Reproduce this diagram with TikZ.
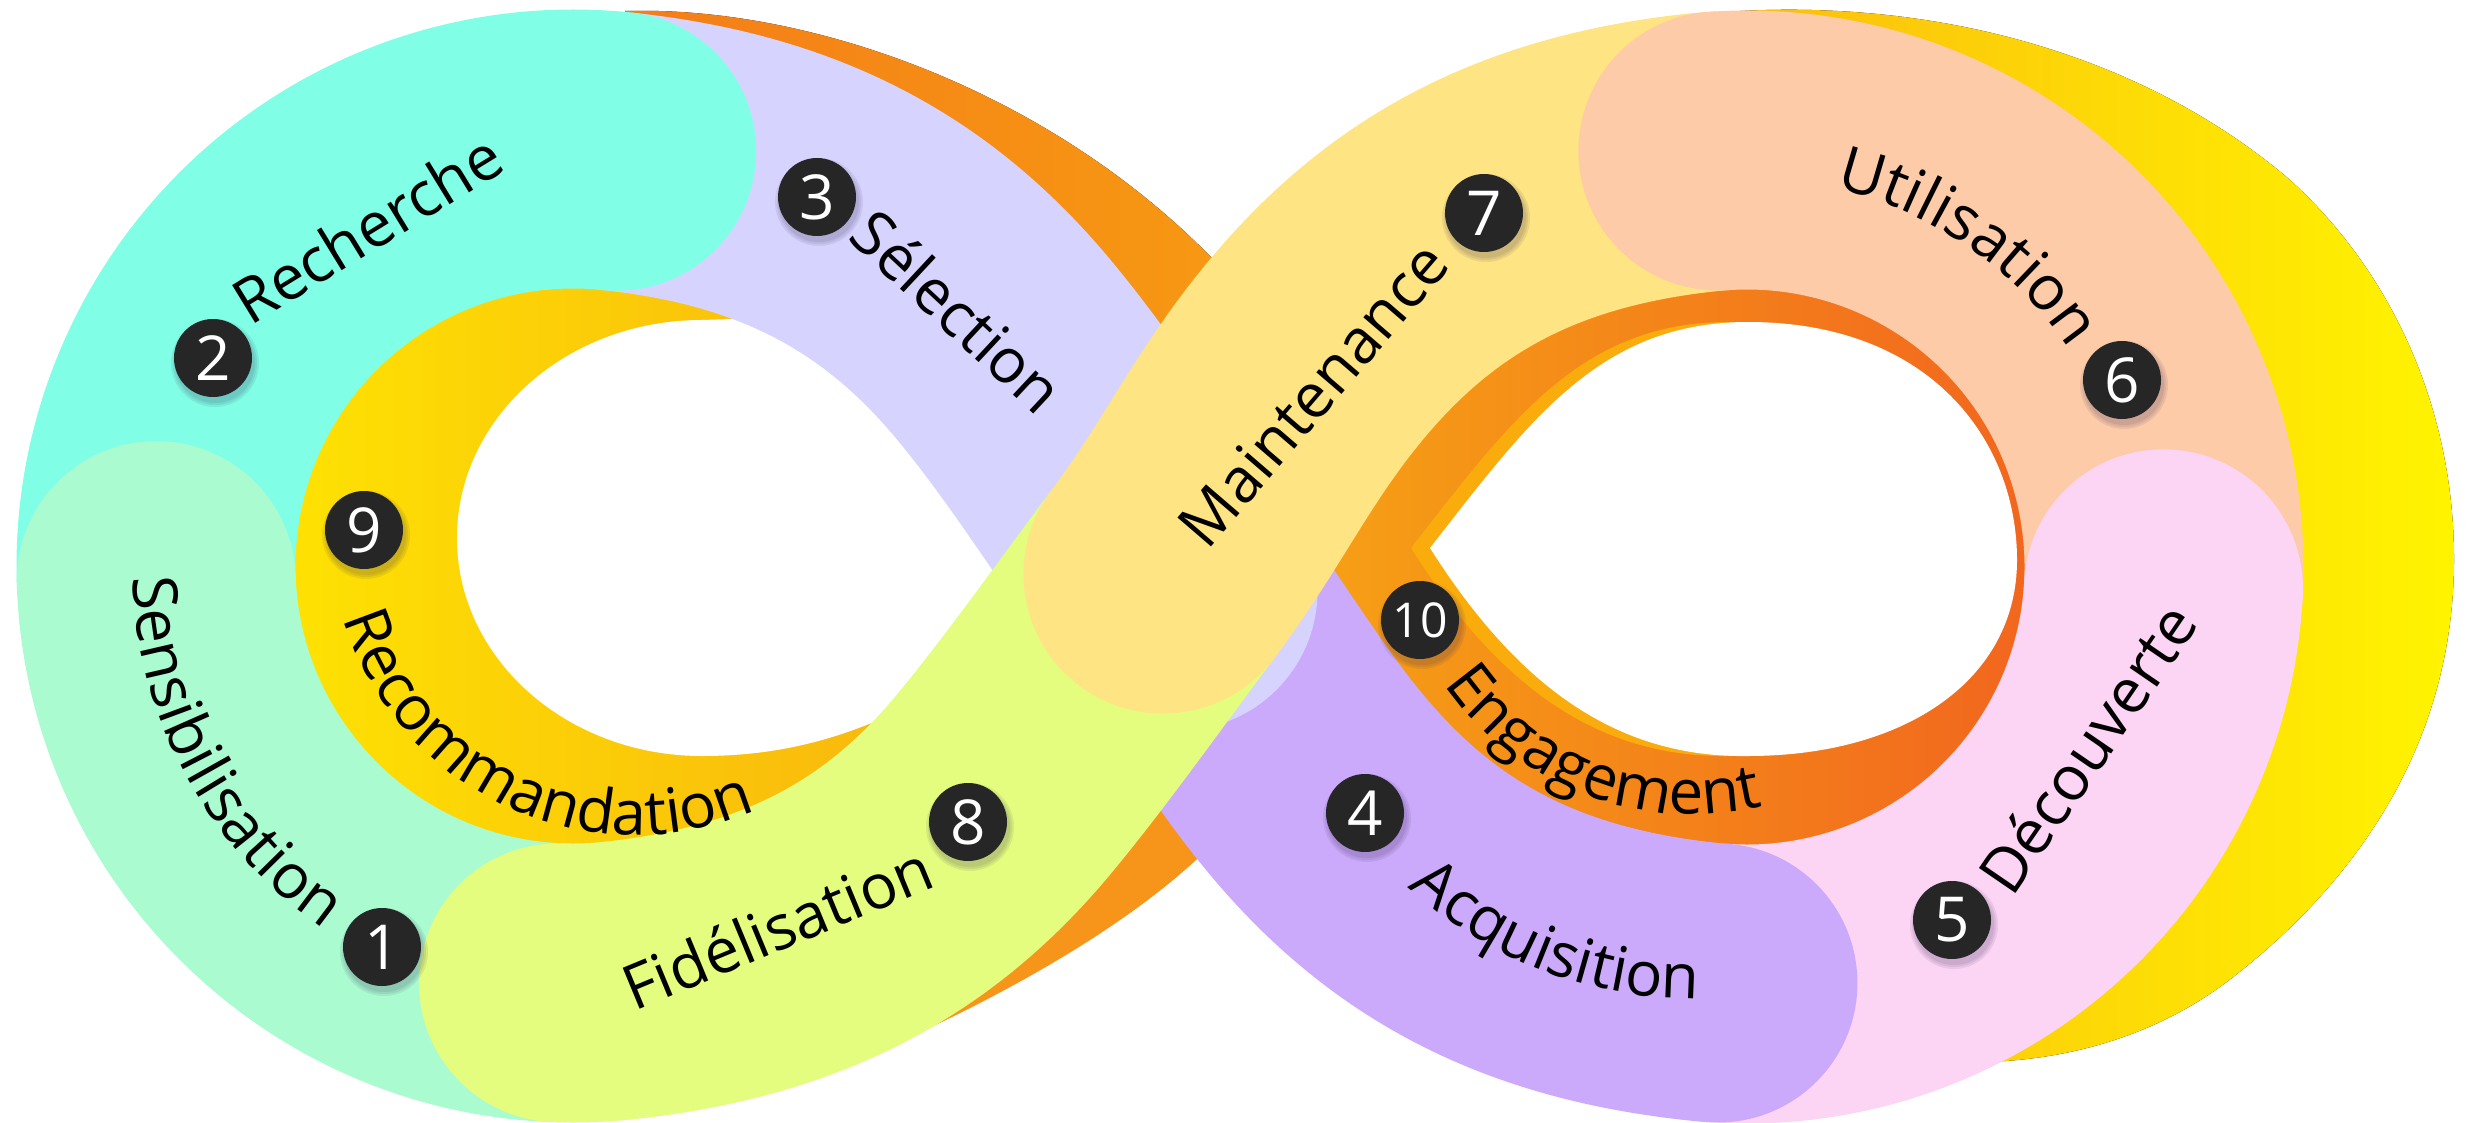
\documentclass[tikz,border=0pt]{standalone}
\usepackage{fontspec}
\setmainfont{Open Sans}
\usetikzlibrary{decorations.text}

\definecolor{mintc}{HTML}{AAFCD0}
\definecolor{cyanc}{HTML}{80FFE6}
\definecolor{lavc}{HTML}{D6D4FE}
\definecolor{purc}{HTML}{CBAAFB}
\definecolor{pinkc}{HTML}{FCD4F4}
\definecolor{peachc}{HTML}{FDCBA8}
\definecolor{maintc}{HTML}{FEE482}
\definecolor{fidc}{HTML}{E4FD7E}
\definecolor{badgec}{HTML}{262626}
\definecolor{shadowc}{HTML}{3A2F5A}
\definecolor{recA}{HTML}{FFEC00}
\definecolor{recB}{HTML}{F8B00F}
\definecolor{engA}{HTML}{F6A015}
\definecolor{engB}{HTML}{F15A20}
\definecolor{amberc}{HTML}{F9AC0C}
\definecolor{topA}{HTML}{F47D18}
\definecolor{topB}{HTML}{F79A12}
\definecolor{wedgec}{HTML}{F7951A}
\definecolor{backA}{HTML}{FBBE0D}
\definecolor{backB}{HTML}{FFF400}

\newcommand\lblfont{\fontsize{62}{74}\selectfont}
\newcommand\numfont{\fontsize{62}{70}\selectfont}
\newcommand\smallnumfont{\fontsize{48}{56}\selectfont}

\tikzset{
  band/.style={line width=279pt, line cap=butt},
  stage/.style={font=\lblfont, inner sep=0pt},
  badge/.style={circle, fill=badgec, text=white, minimum size=78pt, inner sep=0pt, font=\numfont},
  softshadow/.style={fill=shadowc, opacity=0.09},
}

\begin{document}
\begin{tikzpicture}[x=1pt,y=-1pt]
\useasboundingbox (0,0) rectangle (2470,1123);

% ---- back (depth) faces of the ribbon
\fill[left color=topA, right color=topB] (625,11) .. controls (830,5) and (1100,110) .. (1262,315) -- (1150,335) -- (950,220) -- (800,130) -- (660,90) -- cycle;
\fill[wedgec] (925,1030) .. controls (1010,990) and (1120,930) .. (1196,860) .. controls (1220,838) and (1240,815) .. (1255,795) -- (1230,715) -- (1120,800) -- (1000,920) -- cycle;
\fill[left color=backA, right color=backB] (1740,11) .. controls (1950,0) and (2150,60) .. (2290,180) .. controls (2400,280) and (2454,420) .. (2454,559) .. controls (2454,740) and (2360,880) .. (2228,981) .. controls (2150,1040) and (2060,1060) .. (1985,1062) -- (1900,1000) -- (2200,700) -- (2200,420) -- (1900,100) -- (1760,60) -- cycle;

% ---- inner walls of both loops
\fill[left color=recA, right color=recB] (573,566) circle[radius=430];
\fill[left color=engA, right color=engB] (1747,567) circle[radius=430];

% ---- openings
\fill[white] (702,320) arc[start angle=270, end angle=90, x radius=245, y radius=218] .. controls (790,756) and (850,733) .. (895,713) -- (960,700) -- (1060,578) -- (960,420) -- (800,322) -- (760,318) -- cycle;
\fill[amberc, xshift=-19pt] (1430,548) .. controls (1530,420) and (1600,322) .. (1748,322) .. controls (1930,322) and (2017,440) .. (2017,560) .. controls (2017,680) and (1905,756) .. (1748,756) .. controls (1620,758) and (1520,690) .. cycle;
\fill[white] (1430,548) .. controls (1530,420) and (1600,322) .. (1748,322) .. controls (1930,322) and (2017,440) .. (2017,560) .. controls (2017,680) and (1905,756) .. (1748,756) .. controls (1620,758) and (1520,690) .. cycle;

% ---- front face, stage by stage
% 4 Acquisition
\draw[band, purc] (1178,591) .. controls (1226,655) and (1264.8,722.4) .. (1316,784) .. controls (1412,899.5) and (1529.4,963.4) .. ([shift={(96:417)}]1747,567) arc[start angle=96, end angle=94, radius=417];
% 3 Selection
\draw[band, lavc] ([shift={(276:417)}]573,566) .. controls (790.6,169.6) and (908,234.5) .. (1004,350) .. controls (1068,427) and (1118,511) .. (1178,591);
\fill[lavc] (1178,591) circle[radius=139.5];
% 2 Recherche
\draw[band, cyanc] ([shift={(178:417)}]573,566) arc[start angle=178, end angle=276, radius=417];
\fill[cyanc] ([shift={(276:417)}]573,566) circle[radius=139.5];
% 1 Sensibilisation
\draw[band, mintc] ([shift={(92:417)}]573,566) arc[start angle=92, end angle=178, radius=417];
\fill[mintc] ([shift={(178:417)}]573,566) circle[radius=139.5];
% 8 Fidelisation
\draw[band, fidc] (1163,574) .. controls (1115,638) and (1055.2,722.4) .. (1004,784) .. controls (908,899.5) and (790.6,962.4) .. ([shift={(84:417)}]573,566) arc[start angle=84, end angle=92, radius=417];
\fill[fidc] ([shift={(92:417)}]573,566) circle[radius=139.5];
% 7 Maintenance
\draw[band, maintc] ([shift={(-94:417)}]1747,567) arc[start angle=-94, end angle=-96, radius=417] .. controls (1529.4,170.6) and (1412,234.5) .. (1316,350) .. controls (1252,427) and (1223,494) .. (1163,574);
\fill[maintc] (1163,574) circle[radius=139.5];
% 6 Utilisation
\draw[band, peachc] ([shift={(3:417)}]1747,567) arc[start angle=3, end angle=-94, radius=417];
\fill[peachc] ([shift={(-94:417)}]1747,567) circle[radius=139.5];
% 5 Decouverte
\draw[band, pinkc] ([shift={(94:417)}]1747,567) arc[start angle=94, end angle=3, radius=417];
\fill[pinkc] ([shift={(3:417)}]1747,567) circle[radius=139.5];
% rounded end of 4 over the start of 5
\fill[purc] ([shift={(94:417)}]1747,567) circle[radius=139.5];

% ---- curved labels
\path[decorate, decoration={text along path, text align=center, text={|\lblfont|Sensibilisation}}] ([shift={(193:440)}]573,566) arc[start angle=193, end angle=110, radius=440];
\path[decorate, decoration={text along path, text align=center, text={|\lblfont|Recommandation}}] ([shift={(172:306)}]636,529) arc[start angle=172, end angle=58, radius=306];
\path[decorate, decoration={text along path, text align=center, text={|\lblfont|Engagement}}] ([shift={(152:303)}]1693,511) arc[start angle=152, end angle=70, radius=303];
\path[decorate, decoration={text along path, text align=center, text={|\lblfont|Acquisition}}] ([shift={(140:430)}]1697,569) arc[start angle=140, end angle=82, radius=430];
\path[decorate, decoration={text along path, text align=center, text={|\lblfont|Utilisation}}] ([shift={(-87:389)}]1747,567) arc[start angle=-87, end angle=-24, radius=389];

% ---- straight labels
\node[stage, rotate=31.5] (recherche) at (367,228) {Recherche};
\node[stage, rotate=-43] (selection) at (958,311) {Sélection};
\node[stage, rotate=22.5] (fidelisation) at (777,927) {Fidélisation};
\node[stage, rotate=49.3] (maintenance) at (1313,394) {Maintenance};
\node[stage, rotate=55.6] (decouverte) at (2087,748) {Découverte};

% ---- numbered badges
\foreach \n/\x/\y in {1/382/947, 2/213/358, 3/817/197, 4/1365/813, 5/1952/920, 6/2122/380, 7/1484/213, 8/968/822, 9/364/530, 10/1420/620} {
  \fill[softshadow] (\x+2,\y+5) circle[radius=44];
  \fill[softshadow] (\x+2,\y+5) circle[radius=42];
  \fill[softshadow] (\x+2,\y+5) circle[radius=40];
}
\foreach \n/\x/\y in {1/382/947, 2/213/358, 3/817/197, 4/1365/813, 5/1952/920, 6/2122/380, 7/1484/213, 8/968/822, 9/364/530} {
  \node[badge] (b\n) at (\x,\y) {\n};
}
\node[badge, font=\smallnumfont] (b10) at (1420,620) {10};
\end{tikzpicture}
\end{document}
